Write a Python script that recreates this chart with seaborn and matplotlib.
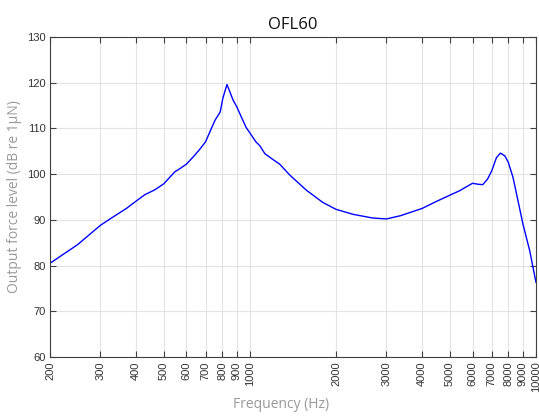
import matplotlib
matplotlib.use("Agg")
import matplotlib.pyplot as plt
import seaborn as sns
import pandas as pd
import numpy as np

freq_hz = [200, 250, 300, 328, 370, 400, 429, 466, 500, 546, 569, 600, 634, 667,
           700, 733, 755, 787, 804, 831, 851, 873, 900, 933, 970, 1000, 1048,
           1083, 1127, 1203, 1270, 1378, 1574, 1799, 2000, 2297, 2688, 3000,
           3356, 4000, 4473, 5000, 5418, 6000, 6259, 6514, 6767, 7000, 7272,
           7512, 7782, 8000, 8310, 8650, 9000, 9511, 10000]
level_db = [80.5, 84.6, 88.8, 90.4, 92.5, 94.1, 95.5, 96.6, 97.9, 100.5, 101.2,
            102.2, 103.8, 105.4, 107.1, 110.0, 111.8, 113.6, 116.6, 119.6, 118.0,
            116.2, 114.7, 112.5, 110.2, 109.0, 107.1, 106.2, 104.5, 103.2, 102.2,
            99.8, 96.5, 93.8, 92.3, 91.2, 90.4, 90.2, 90.9, 92.5, 94.0, 95.4,
            96.4, 98.0, 97.8, 97.7, 98.9, 100.7, 103.6, 104.6, 104.0, 102.6,
            99.3, 94.2, 89.1, 83.2, 76.3]
xticks = [200, 300, 400, 500, 600, 700, 800, 900, 1000, 2000, 3000, 4000,
          5000, 6000, 7000, 8000, 9000, 10000]
yticks = [60, 70, 80, 90, 100, 110, 120, 130]

sns.set_style("whitegrid")
plt.rcParams['font.family'] = ['Liberation Sans', 'DejaVu Sans']

df = pd.DataFrame({"Frequency": freq_hz, "Level": level_db})

fig = plt.figure(figsize=(5.39, 4.16), dpi=100)
ax = fig.add_axes([50/539, 1-357/416, (536-50)/539, (357-37)/416])

sns.lineplot(data=df, x="Frequency", y="Level", ax=ax, color="#0000ff",
             linewidth=1.0, estimator=None, sort=True)

ax.set_xscale("log")
ax.set_xlim(200, 10000)
ax.set_ylim(60, 130)
ax.set_xticks(xticks)
ax.set_xticklabels([str(t) for t in xticks], rotation=90)
ax.xaxis.set_minor_locator(matplotlib.ticker.NullLocator())
ax.set_yticks(yticks)

ax.grid(True, which="major", color="#e3e3e3", linewidth=0.8)
for s in ax.spines.values():
    s.set_visible(True)
    s.set_color("#404040")
    s.set_linewidth(0.8)
ax.tick_params(axis="both", which="major", direction="in", length=4, width=0.8,
               color="#404040", labelsize=8, labelcolor="#333333",
               top=True, right=True, bottom=True, left=True, pad=3)

ax.set_xlabel("Frequency (Hz)", fontsize=10, color="#999999",
              family=["Open Sans", "DejaVu Sans"])
ax.set_ylabel("Output force level (dB re 1μN)", fontsize=10, color="#999999",
              family=["Open Sans", "DejaVu Sans"])
ax.xaxis.set_label_coords((281 - 50) / 486, (357 - 405) / 320)
ax.yaxis.set_label_coords((15 - 50) / 486, 0.5)
ax.xaxis.label.set_va("center")
ax.yaxis.label.set_va("center")
ax.set_title("OFL60", fontsize=12, color="#111111",
             family=["Open Sans", "DejaVu Sans"], pad=6)

fig.savefig("out.png", dpi=100)
